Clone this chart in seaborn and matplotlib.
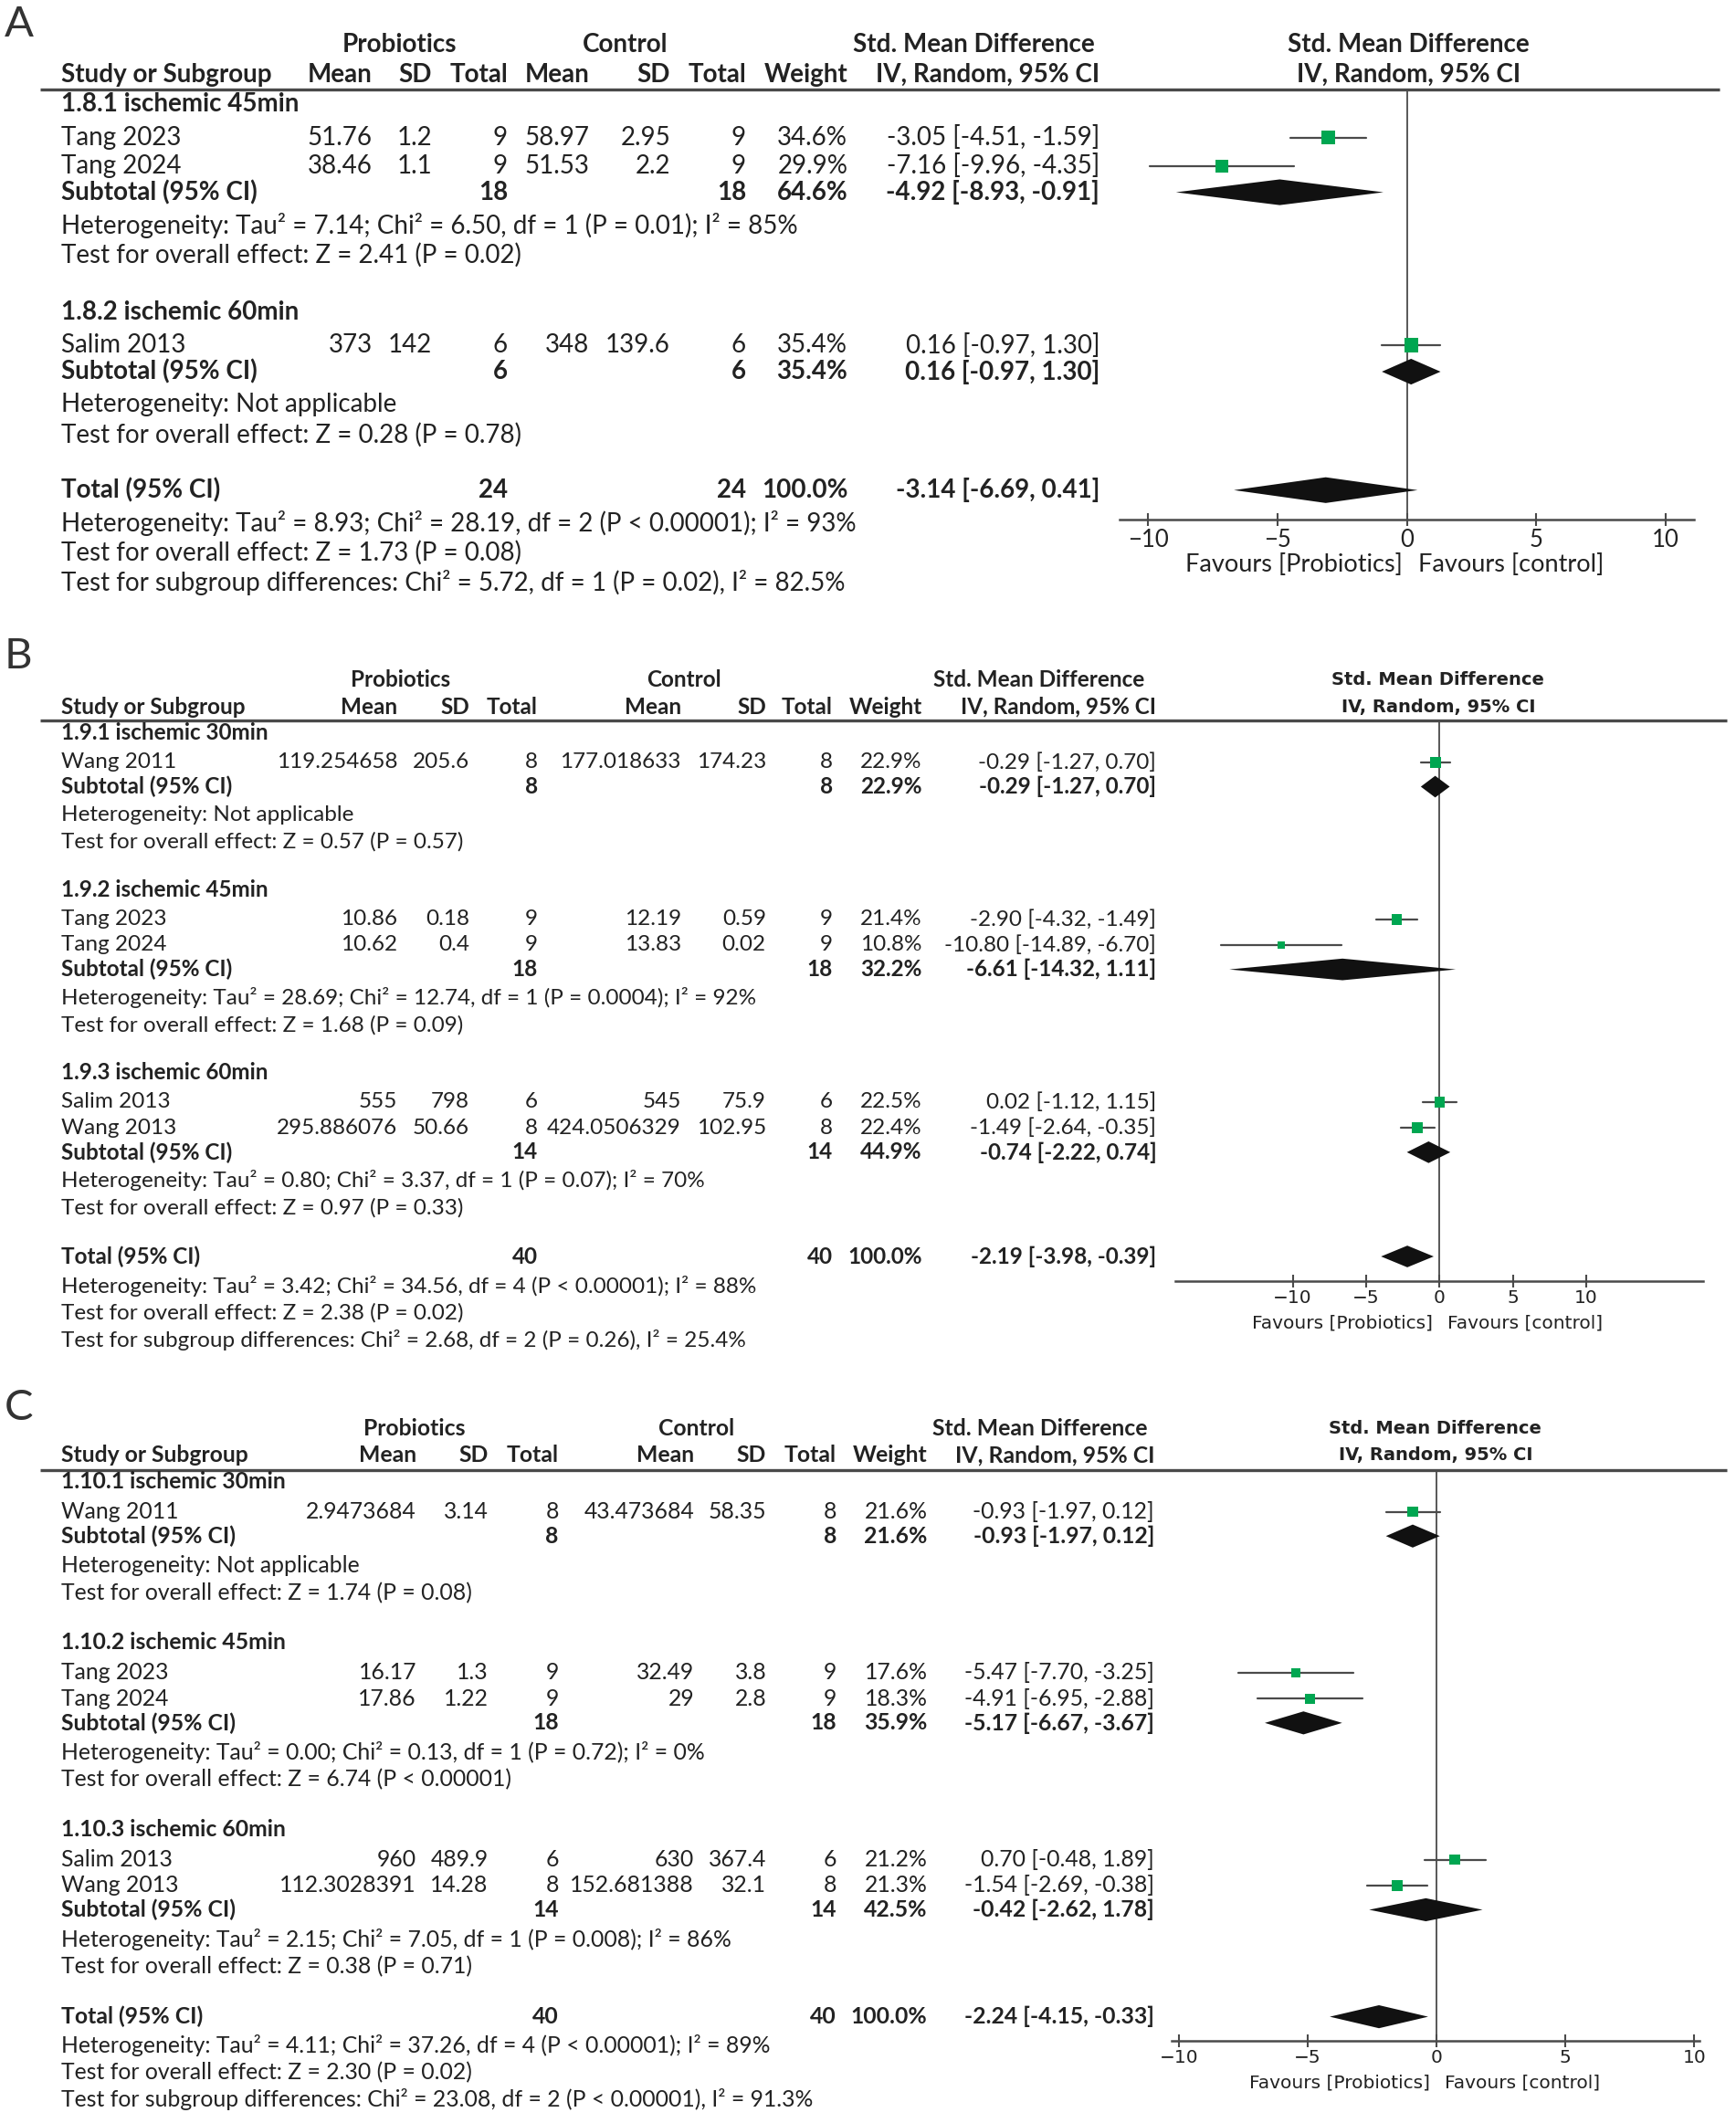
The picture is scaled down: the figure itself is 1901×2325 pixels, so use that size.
import matplotlib
matplotlib.use('Agg')
import matplotlib.pyplot as plt
import seaborn as sns

sns.set_theme(style='white')
plt.rcParams['font.family'] = ['Lato', 'DejaVu Sans']

# ---------------- Panel A data ----------------
a_groups = ['1.8.1 ischemic 45min', '1.8.2 ischemic 60min']
a_study = ['Tang 2023', 'Tang 2024', 'Salim 2013']
a_group_of = [0, 0, 1]
a_exp_mean = ['51.76', '38.46', '373']
a_exp_sd = ['1.2', '1.1', '142']
a_exp_n = [9, 9, 6]
a_ctl_mean = ['58.97', '51.53', '348']
a_ctl_sd = ['2.95', '2.2', '139.6']
a_ctl_n = [9, 9, 6]
a_weight = [34.6, 29.9, 35.4]
a_smd = [-3.05, -7.16, 0.16]
a_lo = [-4.51, -9.96, -0.97]
a_hi = [-1.59, -4.35, 1.30]
a_sub_weight = [64.6, 35.4]
a_sub_smd = [-4.92, 0.16]
a_sub_lo = [-8.93, -0.97]
a_sub_hi = [-0.91, 1.30]
a_het = ['Heterogeneity: Tau\u00b2 = 7.14; Chi\u00b2 = 6.50, df = 1 (P = 0.01); I\u00b2 = 85%',
         'Heterogeneity: Not applicable']
a_test = ['Test for overall effect: Z = 2.41 (P = 0.02)',
          'Test for overall effect: Z = 0.28 (P = 0.78)']
a_total = [-3.14, -6.69, 0.41]
a_total_lines = ['Heterogeneity: Tau\u00b2 = 8.93; Chi\u00b2 = 28.19, df = 2 (P < 0.00001); I\u00b2 = 93%',
                 'Test for overall effect: Z = 1.73 (P = 0.08)',
                 'Test for subgroup differences: Chi\u00b2 = 5.72, df = 1 (P = 0.02), I\u00b2 = 82.5%']

# ---------------- Panel B data ----------------
b_groups = ['1.9.1 ischemic 30min', '1.9.2 ischemic 45min', '1.9.3 ischemic 60min']
b_study = ['Wang 2011', 'Tang 2023', 'Tang 2024', 'Salim 2013', 'Wang 2013']
b_group_of = [0, 1, 1, 2, 2]
b_exp_mean = ['119.254658', '10.86', '10.62', '555', '295.886076']
b_exp_sd = ['205.6', '0.18', '0.4', '798', '50.66']
b_exp_n = [8, 9, 9, 6, 8]
b_ctl_mean = ['177.018633', '12.19', '13.83', '545', '424.0506329']
b_ctl_sd = ['174.23', '0.59', '0.02', '75.9', '102.95']
b_ctl_n = [8, 9, 9, 6, 8]
b_weight = [22.9, 21.4, 10.8, 22.5, 22.4]
b_smd = [-0.29, -2.90, -10.80, 0.02, -1.49]
b_lo = [-1.27, -4.32, -14.89, -1.12, -2.64]
b_hi = [0.70, -1.49, -6.70, 1.15, -0.35]
b_sub_weight = [22.9, 32.2, 44.9]
b_sub_smd = [-0.29, -6.61, -0.74]
b_sub_lo = [-1.27, -14.32, -2.22]
b_sub_hi = [0.70, 1.11, 0.74]
b_het = ['Heterogeneity: Not applicable',
         'Heterogeneity: Tau\u00b2 = 28.69; Chi\u00b2 = 12.74, df = 1 (P = 0.0004); I\u00b2 = 92%',
         'Heterogeneity: Tau\u00b2 = 0.80; Chi\u00b2 = 3.37, df = 1 (P = 0.07); I\u00b2 = 70%']
b_test = ['Test for overall effect: Z = 0.57 (P = 0.57)',
          'Test for overall effect: Z = 1.68 (P = 0.09)',
          'Test for overall effect: Z = 0.97 (P = 0.33)']
b_total = [-2.19, -3.98, -0.39]
b_total_lines = ['Heterogeneity: Tau\u00b2 = 3.42; Chi\u00b2 = 34.56, df = 4 (P < 0.00001); I\u00b2 = 88%',
                 'Test for overall effect: Z = 2.38 (P = 0.02)',
                 'Test for subgroup differences: Chi\u00b2 = 2.68, df = 2 (P = 0.26), I\u00b2 = 25.4%']

# ---------------- Panel C data ----------------
c_groups = ['1.10.1 ischemic 30min', '1.10.2 ischemic 45min', '1.10.3 ischemic 60min']
c_study = ['Wang 2011', 'Tang 2023', 'Tang 2024', 'Salim 2013', 'Wang 2013']
c_group_of = [0, 1, 1, 2, 2]
c_exp_mean = ['2.9473684', '16.17', '17.86', '960', '112.3028391']
c_exp_sd = ['3.14', '1.3', '1.22', '489.9', '14.28']
c_exp_n = [8, 9, 9, 6, 8]
c_ctl_mean = ['43.473684', '32.49', '29', '630', '152.681388']
c_ctl_sd = ['58.35', '3.8', '2.8', '367.4', '32.1']
c_ctl_n = [8, 9, 9, 6, 8]
c_weight = [21.6, 17.6, 18.3, 21.2, 21.3]
c_smd = [-0.93, -5.47, -4.91, 0.70, -1.54]
c_lo = [-1.97, -7.70, -6.95, -0.48, -2.69]
c_hi = [0.12, -3.25, -2.88, 1.89, -0.38]
c_sub_weight = [21.6, 35.9, 42.5]
c_sub_smd = [-0.93, -5.17, -0.42]
c_sub_lo = [-1.97, -6.67, -2.62]
c_sub_hi = [0.12, -3.67, 1.78]
c_het = ['Heterogeneity: Not applicable',
         'Heterogeneity: Tau\u00b2 = 0.00; Chi\u00b2 = 0.13, df = 1 (P = 0.72); I\u00b2 = 0%',
         'Heterogeneity: Tau\u00b2 = 2.15; Chi\u00b2 = 7.05, df = 1 (P = 0.008); I\u00b2 = 86%']
c_test = ['Test for overall effect: Z = 1.74 (P = 0.08)',
          'Test for overall effect: Z = 6.74 (P < 0.00001)',
          'Test for overall effect: Z = 0.38 (P = 0.71)']
c_total = [-2.24, -4.15, -0.33]
c_total_lines = ['Heterogeneity: Tau\u00b2 = 4.11; Chi\u00b2 = 37.26, df = 4 (P < 0.00001); I\u00b2 = 89%',
                 'Test for overall effect: Z = 2.30 (P = 0.02)',
                 'Test for subgroup differences: Chi\u00b2 = 23.08, df = 2 (P < 0.00001), I\u00b2 = 91.3%']

ticks = [-10, -5, 0, 5, 10]

INK = '#222222'
GREY = '#4a4a4a'
GREEN = '#00a651'
W, H = 1282, 1568   # layout grid

fig = plt.figure(figsize=(19.01, 23.25), dpi=100)
ax_txt = fig.add_axes([0, 0, 1, 1])
ax_txt.set_xlim(0, W)
ax_txt.set_ylim(H, 0)
ax_txt.axis('off')


def put(x, y, s, fam, size, ha='left', bold=False):
    ax_txt.text(x, y, s, ha=ha, va='center', family=[fam, 'DejaVu Sans'], fontsize=size,
                fontweight='bold' if bold else 'normal', color=INK)


def walk(n_groups, group_of, gaps, y):
    seq = []
    for g in range(n_groups):
        seq.append(('title', g))
        seq += [('study', i) for i in range(len(group_of)) if group_of[i] == g]
        seq += [('sub', g), ('het', g), ('test', g)]
    seq += [('total', 0), ('het', -1), ('test', -1), ('test', -2)]
    prev, out = 'line', []
    for kind, idx in seq:
        y += gaps[(prev, kind)]
        out.append((kind, idx, y))
        prev = kind
    return out


def ci_text(e, l, h):
    return f'{e:.2f} [{l:.2f}, {h:.2f}]'


def draw_panel(cfg, d):
    fam, fs = cfg['font'], cfg['size']
    ffam, ffs = cfg['ffont'], cfg['fsize']
    c = cfg['cols']
    ax_txt.text(3, cfg['letter_y'], cfg['name'], ha='left', va='center', family=['Lato', 'DejaVu Sans'],
                fontsize=34, fontweight='normal', color='#333333')
    # headers
    put(c['pro'], cfg['h1'], 'Probiotics', fam, fs, 'center', True)
    put(c['ctl'], cfg['h1'], 'Control', fam, fs, 'center', True)
    put(c['smd'], cfg['h1'], 'Std. Mean Difference', fam, fs, 'center', True)
    put(c['study'], cfg['h2'], 'Study or Subgroup', fam, fs, bold=True)
    for key, lab in [('mean', 'Mean'), ('sd', 'SD'), ('n', 'Total'), ('cmean', 'Mean'), ('csd', 'SD'),
                     ('cn', 'Total'), ('w', 'Weight'), ('ci', 'IV, Random, 95% CI')]:
        put(c[key], cfg['h2'], lab, fam, fs, 'right', True)
    put(cfg['fhead'], cfg['h1'], 'Std. Mean Difference', ffam, ffs, 'center', True)
    put(cfg['fhead'], cfg['h2'], 'IV, Random, 95% CI', ffam, ffs, 'center', True)
    ax_txt.plot([30, cfg['line_end']], [cfg['line']] * 2, color=GREY, lw=2.4, solid_capstyle='butt')

    # forest axes, sharing the same vertical grid as the text
    left, right = cfg['fx']
    top, bottom = cfg['line'], cfg['axis_y']
    ax = fig.add_axes([left / W, 1 - bottom / H, (right - left) / W, (bottom - top) / H])
    ax.set_xlim(cfg['xlim'])
    ax.set_ylim(bottom, top)
    ax.patch.set_alpha(0)
    for s in ['left', 'right', 'top']:
        ax.spines[s].set_visible(False)
    ax.spines['bottom'].set_color(GREY)
    ax.spines['bottom'].set_linewidth(1.8)
    ax.set_yticks([])
    ax.set_xticks(ticks, labels=[f'{t:g}'.replace('-', '\u2212') for t in ticks],
                  family=[ffam, 'DejaVu Sans'], fontsize=cfg['tsize'], color=INK)
    ax.tick_params(axis='x', bottom=True, direction='inout', length=10, width=1.5,
                   color=GREY, pad=cfg['pad'])
    ax.axvline(0, color=GREY, lw=1.3, zorder=1)
    put(cfg['fav'][0], cfg['fav_y'], 'Favours [Probiotics]', ffam, cfg['favsize'], 'right')
    put(cfg['fav'][1], cfg['fav_y'], 'Favours [control]', ffam, cfg['favsize'], 'left')

    hh = cfg['dia']
    sq_x, sq_y, sq_s = [], [], []
    for kind, idx, y in walk(len(d['groups']), d['group_of'], cfg['gaps'], cfg['line']):
        if kind == 'title':
            put(c['study'], y, d['groups'][idx], fam, fs, bold=True)
        elif kind == 'study':
            put(c['study'], y, d['study'][idx], fam, fs)
            for key, col in [('exp_mean', 'mean'), ('exp_sd', 'sd'), ('exp_n', 'n'),
                             ('ctl_mean', 'cmean'), ('ctl_sd', 'csd'), ('ctl_n', 'cn')]:
                put(c[col], y, str(d[key][idx]), fam, fs, 'right')
            put(c['w'], y, f"{d['weight'][idx]:.1f}%", fam, fs, 'right')
            put(c['ci'], y, ci_text(d['smd'][idx], d['lo'][idx], d['hi'][idx]), fam, fs, 'right')
            ax.plot([d['lo'][idx], d['hi'][idx]], [y, y], color=GREY, lw=1.6, zorder=2)
            sq_x.append(d['smd'][idx]); sq_y.append(y); sq_s.append(d['weight'][idx] * cfg['sq'])
        elif kind in ('sub', 'total'):
            if kind == 'sub':
                members = [i for i in range(len(d['study'])) if d['group_of'][i] == idx]
                label, w = 'Subtotal (95% CI)', f"{d['sub_weight'][idx]:.1f}%"
                e, l, h = d['sub_smd'][idx], d['sub_lo'][idx], d['sub_hi'][idx]
            else:
                members = list(range(len(d['study'])))
                label, w = 'Total (95% CI)', '100.0%'
                e, l, h = d['total']
            put(c['study'], y, label, fam, fs, bold=True)
            put(c['n'], y, str(sum(d['exp_n'][i] for i in members)), fam, fs, 'right', True)
            put(c['cn'], y, str(sum(d['ctl_n'][i] for i in members)), fam, fs, 'right', True)
            put(c['w'], y, w, fam, fs, 'right', True)
            put(c['ci'], y, ci_text(e, l, h), fam, fs, 'right', True)
            ax.fill([l, e, h, e], [y, y - hh, y, y + hh], color='#111111', lw=0, zorder=3)
        elif kind == 'het':
            put(c['study'], y, d['het'][idx] if idx >= 0 else d['total_lines'][0], fam, fs)
        elif kind == 'test':
            text = d['test'][idx] if idx >= 0 else d['total_lines'][-idx]
            put(c['study'], y, text, fam, fs)
    sns.scatterplot(x=sq_x, y=sq_y, s=sq_s, marker='s', color=GREEN, linewidth=0,
                    legend=False, ax=ax, zorder=4)
    ax.set_xlim(cfg['xlim'])
    ax.set_ylim(bottom, top)
    ax.set_xlabel('')
    ax.set_ylabel('')


def pack(p):
    g = globals()
    keys = ['groups', 'study', 'group_of', 'exp_mean', 'exp_sd', 'exp_n', 'ctl_mean', 'ctl_sd', 'ctl_n',
            'weight', 'smd', 'lo', 'hi', 'sub_weight', 'sub_smd', 'sub_lo', 'sub_hi', 'het', 'test',
            'total', 'total_lines']
    return {k: g[f'{p}_{k}'] for k in keys}


gaps_a = {('line', 'title'): 11, ('title', 'study'): 24.5, ('study', 'study'): 21,
          ('study', 'sub'): 19.5, ('sub', 'het'): 24.5, ('het', 'test'): 22, ('test', 'title'): 42,
          ('test', 'total'): 41, ('total', 'het'): 24.5, ('test', 'test'): 22}
gaps_b = {('line', 'title'): 9, ('title', 'study'): 22, ('study', 'study'): 19,
          ('study', 'sub'): 18, ('sub', 'het'): 21, ('het', 'test'): 20, ('test', 'title'): 35,
          ('test', 'total'): 36, ('total', 'het'): 22, ('test', 'test'): 20}
gaps_c = {('line', 'title'): 8, ('title', 'study'): 22.5, ('study', 'study'): 19,
          ('study', 'sub'): 18, ('sub', 'het'): 22, ('het', 'test'): 20, ('test', 'title'): 36.5,
          ('test', 'total'): 37, ('total', 'het'): 21, ('test', 'test'): 20}

cfg_a = dict(name='A', letter_y=18, h1=33, h2=55, line=66, line_end=1270, gaps=gaps_a,
             font='Lato', size=20, ffont='Lato', fsize=20, tsize=18.5, favsize=19.5, pad=2,
             cols=dict(study=45, mean=275, sd=319, n=375, cmean=435, csd=495, cn=551, w=626, ci=812,
                       pro=295, ctl=462, smd=719),
             fhead=1040, fx=(827, 1251), xlim=(-11.1, 11.1), axis_y=384, fav=(1036, 1047), fav_y=417,
             dia=9.5, sq=3.4)
cfg_b = dict(name='B', letter_y=485, h1=502, h2=522, line=532, line_end=1275, gaps=gaps_b,
             font='Lato', size=17.5, ffont='DejaVu Sans', fsize=14, tsize=14.5, favsize=14.5, pad=1.5,
             cols=dict(study=45, mean=293.5, sd=346.6, n=397, cmean=503, csd=565.7, cn=615, w=681, ci=854,
                       pro=296, ctl=505, smd=767),
             fhead=1062, fx=(868, 1258), xlim=(-18, 18), axis_y=946, fav=(1058, 1069), fav_y=977,
             dia=8, sq=3.2)
cfg_c = dict(name='C', letter_y=1040, h1=1055, h2=1075, line=1086, line_end=1275, gaps=gaps_c,
             font='Lato', size=17.8, ffont='DejaVu Sans', fsize=14, tsize=14.5, favsize=14.5, pad=1.5,
             cols=dict(study=45, mean=307.5, sd=360.6, n=412.6, cmean=512.6, csd=566, cn=617.7, w=684.8,
                       ci=852.5, pro=306, ctl=514, smd=768),
             fhead=1060, fx=(865, 1255), xlim=(-10.3, 10.2), axis_y=1507, fav=(1056, 1067), fav_y=1538,
             dia=8.5, sq=3.4)

draw_panel(cfg_a, pack('a'))
draw_panel(cfg_b, pack('b'))
draw_panel(cfg_c, pack('c'))

fig.savefig('out.png', dpi=100, facecolor='white')
